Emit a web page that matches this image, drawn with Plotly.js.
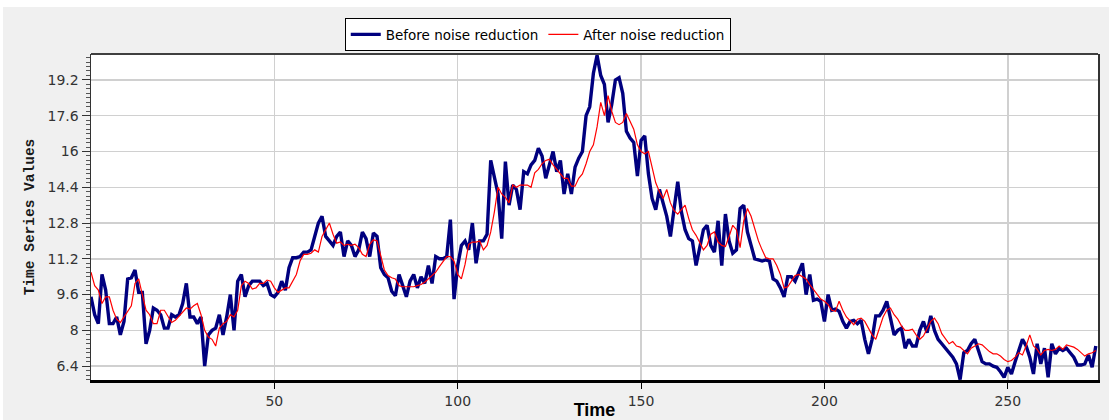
<!DOCTYPE html>
<html>
<head>
<meta charset="utf-8">
<script src="https://cdn.plot.ly/plotly-3.0.1.min.js"></script>
<style>
  html, body { margin: 0; padding: 0; background: #ffffff; }
  #chart { position: absolute; left: 3px; top: 7px; width: 1106px; height: 413px; }
</style>
</head>
<body>
<div id="chart"></div>
<script>
// Values (time index 0..274)
const beforeNoiseReduction = [
  9.5,8.7,8.3,10.5,9.8,8.3,8.3,8.6,7.8,8.4,
  10.3,10.35,10.7,9.7,9.7,7.4,8.0,9.0,8.9,8.7,
  8.1,8.1,8.7,8.6,8.7,9.2,10.1,8.6,8.6,8.3,
  8.6,6.4,7.8,8.0,8.1,8.7,7.8,8.6,9.6,8.0,
  10.2,10.5,9.5,10.0,10.2,10.2,10.2,10.0,10.1,9.6,
  9.5,9.7,10.2,9.8,10.8,11.25,11.25,11.3,11.5,11.5,
  11.6,12.2,12.8,13.1,12.2,12.0,11.8,12.2,12.4,11.3,
  12.0,11.8,11.3,11.6,12.4,12.1,11.3,12.35,12.2,10.8,
  10.5,10.35,9.75,9.55,10.5,10.0,9.5,10.2,10.5,9.9,
  10.4,10.1,10.9,10.1,11.3,11.2,11.2,11.3,12.95,9.4,
  10.9,11.8,12.0,11.6,12.8,11.0,12.0,12.0,12.3,15.6,
  14.8,14.1,12.1,15.55,13.6,14.5,14.3,13.4,15.1,15.0,
  15.4,15.6,16.15,15.8,14.8,15.4,16.0,15.1,15.6,14.1,
  15.0,14.1,15.3,15.7,16.0,17.6,18.0,19.5,20.3,19.4,
  19.0,17.3,18.1,19.2,19.3,18.6,16.9,16.6,16.4,14.9,
  16.5,16.7,15.0,13.9,13.4,14.3,13.7,13.1,12.2,13.5,
  14.65,13.3,12.5,12.1,12.0,10.9,11.8,12.5,12.7,11.8,
  11.5,12.9,10.9,13.2,12.0,11.45,11.6,13.45,13.6,12.4,
  11.8,11.2,11.15,11.1,11.15,11.1,10.3,10.2,9.9,9.5,
  10.4,10.4,10.2,10.6,11.0,9.6,10.5,9.35,9.4,9.3,
  8.4,9.6,8.9,8.95,8.85,8.4,8.1,8.4,8.45,8.3,
  8.45,7.6,6.95,7.6,8.65,8.65,8.9,9.3,8.5,7.8,
  8.0,8.1,7.2,7.6,7.3,7.3,8.0,8.4,7.9,8.65,
  8.0,7.6,7.4,7.2,6.95,6.8,6.5,5.8,7.0,7.1,
  7.4,7.6,7.1,6.6,6.5,6.5,6.4,6.35,6.15,5.9,
  6.35,6.05,6.6,7.1,7.6,7.3,6.8,6.05,7.4,6.5,
  7.2,5.9,7.4,6.95,7.2,7.1,7.2,7.0,6.8,6.45,
  6.45,6.5,6.9,6.35,7.3
];
const afterNoiseReduction = [
  10.6,10.0,9.8,9.2,9.5,9.5,8.9,8.5,8.35,8.6,
  8.9,9.1,10.1,10.3,9.6,8.9,8.7,8.3,8.3,8.9,
  8.9,8.65,8.35,8.45,8.65,8.8,9.0,8.95,9.1,9.2,
  8.7,8.0,7.7,7.6,7.3,8.1,8.3,8.4,8.7,8.6,
  8.9,10.0,10.2,10.1,9.85,9.9,10.1,10.1,10.25,10.2,
  9.9,9.7,9.8,9.9,9.9,10.2,10.5,11.1,11.4,11.4,
  11.45,11.6,11.5,12.2,12.5,12.8,12.3,11.9,11.95,11.8,
  11.85,11.8,11.85,11.7,11.4,11.3,11.85,12.05,12.0,11.4,
  10.7,10.45,10.35,10.3,10.0,9.95,9.95,9.95,9.95,10.0,
  10.05,10.15,10.3,10.45,10.6,10.85,11.05,11.3,11.3,11.1,
  10.5,10.3,10.95,11.85,11.95,11.95,12.0,11.6,11.8,12.4,
  13.3,14.4,14.1,13.95,13.7,14.5,14.4,14.5,14.5,14.5,
  14.4,15.05,15.2,15.45,15.6,15.65,15.4,15.2,15.0,14.8,
  14.8,14.45,14.45,14.8,15.0,15.45,16.0,16.3,17.1,18.2,
  17.6,18.5,17.8,17.3,17.2,17.3,17.7,17.35,17.0,16.3,
  16.0,15.9,16.0,15.3,14.6,14.2,13.9,14.3,13.7,13.35,
  13.2,13.4,13.6,13.0,12.5,12.25,11.9,11.6,11.8,12.3,
  12.4,11.95,11.8,11.75,12.2,12.7,12.5,11.7,12.9,13.45,
  13.1,12.5,12.0,11.6,11.25,11.2,11.2,10.9,10.5,9.9,
  9.95,10.2,10.45,10.5,10.4,10.3,10.05,9.85,9.6,9.4,
  9.3,9.15,8.9,8.85,9.3,8.9,8.6,8.4,8.25,8.5,
  8.55,8.4,8.1,7.8,7.6,8.1,8.6,8.9,9.0,8.7,
  8.5,8.2,8.0,8.0,8.05,7.8,7.6,7.75,8.1,8.4,
  8.55,8.3,7.85,7.6,7.4,7.5,7.3,7.25,7.1,6.95,
  7.2,7.3,7.4,7.35,7.2,7.05,6.95,6.95,6.85,6.7,
  6.6,6.65,6.8,7.0,6.9,7.3,7.8,7.3,7.15,6.9,
  7.1,7.15,7.1,7.15,7.3,7.15,7.35,7.3,7.25,7.15,
  7.0,6.85,6.95,7.0,7.1
];
const time = beforeNoiseReduction.map((_, i) => i);
const yTickValues = [6.4, 8, 9.6, 11.2, 12.8, 14.4, 16, 17.6, 19.2];
const yTickLabels = ["6.4", "8", "9.6", "11.2", "12.8", "14.4", "16", "17.6", "19.2"];
const xTickValues = [50, 100, 150, 200, 250];
const seriesNames = ["Before noise reduction", "After noise reduction"];

const traces = [
  {
    x: time, y: beforeNoiseReduction, name: seriesNames[0],
    type: "scatter", mode: "lines",
    line: { color: "#00007f", width: 3.4 }
  },
  {
    x: time, y: afterNoiseReduction, name: seriesNames[1],
    type: "scatter", mode: "lines",
    line: { color: "#ff0000", width: 1.2 }
  }
];

const layout = {
  width: 1106, height: 413,
  margin: { l: 88, r: 11, t: 45, b: 40 },
  paper_bgcolor: "#f0f0f0",
  plot_bgcolor: "#ffffff",
  font: { family: "DejaVu Sans, sans-serif", color: "#333333", size: 13 },
  showlegend: true,
  legend: {
    orientation: "h", x: 0.252, xanchor: "left", y: 1.11, yanchor: "top",
    bgcolor: "#ffffff", bordercolor: "#000000", borderwidth: 1,
    font: { family: "DejaVu Sans, sans-serif", size: 13.5, color: "#000000" },
    itemwidth: 30, tracegroupgap: 0
  },
  xaxis: {
    range: [0, 274.6],
    tickvals: xTickValues,
    ticks: "outside", ticklen: 6, tickwidth: 1, tickcolor: "#000000",
    showgrid: true, gridcolor: "#d0d0d0", gridwidth: 1.5,
    zeroline: false,
    showline: true, linecolor: "#000000", linewidth: 3,
    tickfont: { family: "DejaVu Sans, sans-serif", size: 14, color: "#333333" },
    title: { text: "<b>Time</b>", font: { family: "Liberation Sans, Arial, sans-serif", size: 18, color: "#000000" }, standoff: 10 }
  },
  yaxis: {
    range: [5.78, 20.36],
    tickvals: yTickValues, ticktext: yTickLabels,
    ticks: "outside", ticklen: 8, tickwidth: 1, tickcolor: "#333333",
    minor: { tickmode: "linear", tick0: 6.4, dtick: 0.2, ticks: "outside", ticklen: 4, tickcolor: "#555555", showgrid: false },
    showgrid: true, gridcolor: "#d0d0d0", gridwidth: 1.5,
    zeroline: false,
    showline: true, linecolor: "#333333", linewidth: 1.5, mirror: true,
    tickfont: { family: "DejaVu Sans, sans-serif", size: 14, color: "#333333" },
    title: { text: "<b>Time Series Values</b>", font: { family: "Liberation Mono, Courier New, monospace", size: 14.5, color: "#1a1a1a" }, standoff: 9 }
  },
  shapes: [
    { type: "line", xref: "paper", yref: "paper", x0: 0, x1: 1, y0: 1, y1: 1,
      line: { color: "#404040", width: 2 } }
  ]
};

Plotly.newPlot("chart", traces, layout, { displayModeBar: false, staticPlot: true });
</script>
</body>
</html>
